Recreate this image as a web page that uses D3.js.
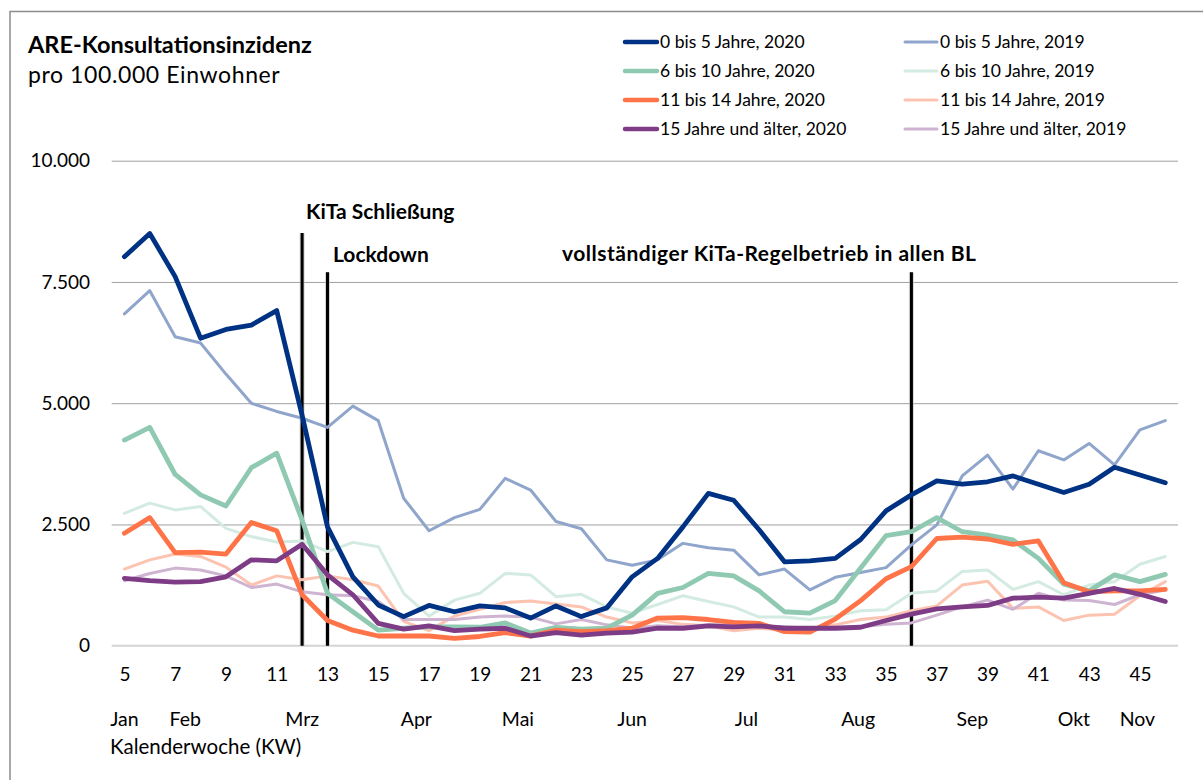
<!DOCTYPE html>
<html>
<head>
<meta charset="utf-8">
<script src="https://cdn.jsdelivr.net/npm/d3@7"></script>
<style>
  body { margin: 0; background: #fff; }
  svg { font-family: Lato, "Open Sans", sans-serif; }
</style>
</head>
<body>
<div id="chart"></div>
<script>
// Kalenderwochen 5 bis 46
var weeks = d3.range(5, 47);

var kids0to5_2020 = [8020, 8500, 7610, 6340, 6520, 6610, 6910, 4750, 2450, 1420, 840, 600, 830, 700, 820, 780, 570, 820, 600, 780, 1420, 1800, 2450, 3140, 3000, 2390, 1730, 1750, 1800, 2190, 2780, 3110, 3400, 3330, 3380, 3500, 3330, 3160, 3330, 3680, 3520, 3360];
var kids0to5_2019 = [6840, 7320, 6370, 6240, 5600, 5000, 4830, 4690, 4500, 4940, 4640, 3040, 2370, 2640, 2810, 3450, 3210, 2560, 2410, 1770, 1660, 1770, 2110, 2020, 1970, 1460, 1580, 1150, 1410, 1510, 1610, 2080, 2490, 3500, 3930, 3230, 4020, 3830, 4170, 3730, 4450, 4640];
var kids6to10_2020 = [4240, 4500, 3530, 3110, 2880, 3670, 3970, 2590, 1080, 700, 320, 360, 390, 390, 380, 470, 260, 380, 340, 360, 630, 1080, 1200, 1490, 1440, 1130, 700, 670, 930, 1600, 2270, 2350, 2640, 2350, 2280, 2180, 1800, 1270, 1130, 1460, 1320, 1470];
var kids6to10_2019 = [2730, 2940, 2800, 2870, 2420, 2250, 2140, 2160, 1940, 2130, 2040, 1080, 610, 940, 1080, 1490, 1460, 1010, 1060, 800, 670, 850, 1030, 910, 800, 590, 590, 540, 610, 720, 740, 1080, 1130, 1530, 1560, 1160, 1320, 1050, 1250, 1320, 1680, 1840];
var kids11to14_2020 = [2320, 2640, 1920, 1930, 1890, 2540, 2370, 1050, 520, 320, 200, 200, 200, 150, 190, 270, 200, 320, 290, 310, 360, 570, 580, 540, 480, 460, 290, 280, 550, 930, 1380, 1630, 2210, 2240, 2200, 2090, 2160, 1300, 1110, 1130, 1130, 1160];
var kids11to14_2019 = [1580, 1770, 1890, 1840, 1620, 1250, 1440, 1360, 1440, 1360, 1230, 500, 310, 610, 750, 890, 920, 860, 800, 590, 470, 520, 440, 410, 310, 360, 320, 340, 430, 540, 590, 720, 820, 1250, 1330, 770, 800, 520, 630, 650, 1030, 1320];
var age15plus_2020 = [1390, 1340, 1310, 1320, 1420, 1770, 1750, 2090, 1460, 1050, 460, 340, 410, 310, 340, 360, 200, 270, 220, 260, 280, 360, 360, 410, 390, 410, 360, 360, 360, 380, 520, 650, 760, 800, 830, 980, 1000, 980, 1080, 1180, 1060, 910];
var age15plus_2019 = [1340, 1490, 1600, 1560, 1440, 1200, 1270, 1110, 1050, 1030, 910, 540, 540, 540, 590, 610, 590, 450, 540, 430, 360, 410, 390, 430, 430, 410, 390, 360, 380, 390, 440, 470, 630, 800, 940, 750, 1080, 940, 930, 850, 1050, 1150];

var seriesNames = ["0 bis 5 Jahre, 2020", "0 bis 5 Jahre, 2019",
                   "6 bis 10 Jahre, 2020", "6 bis 10 Jahre, 2019",
                   "11 bis 14 Jahre, 2020", "11 bis 14 Jahre, 2019",
                   "15 Jahre und älter, 2020", "15 Jahre und älter, 2019"];
var seriesValues = [kids0to5_2020, kids0to5_2019, kids6to10_2020, kids6to10_2019,
                    kids11to14_2020, kids11to14_2019, age15plus_2020, age15plus_2019];
var seriesColors = ["#003283", "#8fa5cb", "#8fc9b1", "#d3ebe1",
                    "#fe7448", "#fdc3b1", "#7d3c85", "#cfb4d2"];

var yTicks = [0, 2500, 5000, 7500, 10000];
var xTicks = d3.range(5, 46, 2);

// Monatsnamen unter den KW-Zahlen (Position in KW)
var monthNames = ["Jan", "Feb", "Mrz", "Apr", "Mai", "Jun", "Jul", "Aug", "Sep", "Okt", "Nov"];
var monthWeeks = [5, 7.4, 12, 16.5, 20.5, 25, 29.5, 33.9, 38.4, 42.4, 44.9];

// Ereignisse: KW, Beschriftung, Oberkante der Linie
var eventLabels = ["KiTa Schließung", "Lockdown", "vollständiger KiTa-Regelbetrieb in allen BL"];
var eventWeeks = [12, 13, 36];
var eventTops = [8510, 7700, 7700];

var width = 1203, height = 780;
var svg = d3.select("#chart").append("svg")
    .attr("width", width)
    .attr("height", height);

svg.append("rect").attr("width", width).attr("height", height).attr("fill", "#fff");

// Rahmen (nur links und oben sichtbar)
svg.append("path")
    .attr("d", "M10,780V11.5H1203")
    .attr("fill", "none")
    .attr("stroke", "#8c8c8c")
    .attr("stroke-width", 1.5);

var xScale = d3.scaleLinear().domain([4.5, 46.5]).range([111.7, 1178]);
var yScale = d3.scaleLinear().domain([0, 10000]).range([645.7, 160.7]);

var de = d3.formatLocale({decimal: ",", thousands: ".", grouping: [3], currency: ["", " €"]});
var fmt = de.format(",");

// Gitterlinien
var grid = svg.append("g")
    .attr("transform", "translate(" + xScale.range()[0] + ",0)")
    .call(d3.axisLeft(yScale).tickValues(yTicks.slice(1))
        .tickSize(-(xScale.range()[1] - xScale.range()[0])).tickFormat(""));
grid.select(".domain").remove();
grid.selectAll("line").attr("stroke", "#a0a0a0").attr("stroke-width", 1);

// y-Achse Beschriftung
var yAxis = svg.append("g")
    .attr("transform", "translate(90,0)")
    .call(d3.axisLeft(yScale).tickValues(yTicks).tickSize(0).tickPadding(0).tickFormat(fmt));
yAxis.select(".domain").remove();
yAxis.selectAll("text").attr("font-size", 19).attr("fill", "#000")
    .attr("font-family", "Lato, sans-serif");

// Grundlinie
svg.append("line")
    .attr("x1", xScale.range()[0]).attr("x2", xScale.range()[1])
    .attr("y1", yScale(0)).attr("y2", yScale(0))
    .attr("stroke", "#d4d4d4").attr("stroke-width", 2);

// Ereignislinien
eventWeeks.forEach(function (w, i) {
    svg.append("line")
        .attr("x1", xScale(w)).attr("x2", xScale(w))
        .attr("y1", yScale(eventTops[i])).attr("y2", yScale(0))
        .attr("stroke", "#bbb").attr("stroke-width", 5).attr("opacity", 0.6);
    svg.append("line")
        .attr("x1", xScale(w)).attr("x2", xScale(w))
        .attr("y1", yScale(eventTops[i])).attr("y2", yScale(0))
        .attr("stroke", "#000").attr("stroke-width", 3);
});

// Linien
var line = d3.line()
    .x(function (d, i) { return xScale(weeks[i]); })
    .y(function (d) { return yScale(d); });

var order = [1, 3, 5, 7, 0, 2, 4, 6];
order.forEach(function (k) {
    var is2020 = k % 2 === 0;
    svg.append("path")
        .datum(seriesValues[k])
        .attr("d", line)
        .attr("fill", "none")
        .attr("stroke", seriesColors[k])
        .attr("stroke-width", is2020 ? 4.8 : 3)
        .attr("stroke-linejoin", "round")
        .attr("stroke-linecap", "round");
});

// Ereignis-Beschriftungen
var labelX = [306, 333, 562];
var labelY = [219, 262, 261];
eventLabels.forEach(function (t, i) {
    svg.append("text")
        .attr("x", labelX[i]).attr("y", labelY[i])
        .attr("font-size", 21).attr("font-weight", "bold")
        .attr("letter-spacing", i === 2 ? 0.5 : 0)
        .text(t);
});

// x-Achse
var xAxis = svg.append("g")
    .attr("transform", "translate(0," + yScale(0) + ")")
    .call(d3.axisBottom(xScale).tickValues(xTicks).tickSize(0).tickPadding(22));
xAxis.select(".domain").remove();
xAxis.selectAll("text").attr("font-size", 19).attr("fill", "#000")
    .attr("font-family", "Lato, sans-serif");

svg.append("g").selectAll("text")
    .data(monthNames)
    .enter().append("text")
    .attr("x", function (d, i) { return xScale(monthWeeks[i]); })
    .attr("y", 726)
    .attr("text-anchor", "middle")
    .attr("font-size", 19.5)
    .text(function (d) { return d; });

svg.append("text")
    .attr("x", 110).attr("y", 754)
    .attr("font-size", 20.5)
    .text("Kalenderwoche (KW)");

// Titel
svg.append("text")
    .attr("x", 28).attr("y", 53)
    .attr("font-size", 23.5).attr("font-weight", "bold")
    .text("ARE-Konsultationsinzidenz");
svg.append("text")
    .attr("x", 28).attr("y", 83)
    .attr("font-size", 23)
    .attr("letter-spacing", 0.6)
    .text("pro 100.000 Einwohner");

// Legende
var legend = svg.append("g");
seriesNames.forEach(function (name, k) {
    var col = k % 2, row = Math.floor(k / 2);
    var lx = 625 + col * 280, ly = 42 + row * 29;
    legend.append("line")
        .attr("x1", lx).attr("x2", lx + 32)
        .attr("y1", ly).attr("y2", ly)
        .attr("stroke", seriesColors[k])
        .attr("stroke-width", col === 0 ? 4.5 : 3)
        .attr("stroke-linecap", "round");
    legend.append("text")
        .attr("x", lx + 35).attr("y", ly + 6)
        .attr("font-size", 17.5)
        .text(name);
});
</script>
</body>
</html>
